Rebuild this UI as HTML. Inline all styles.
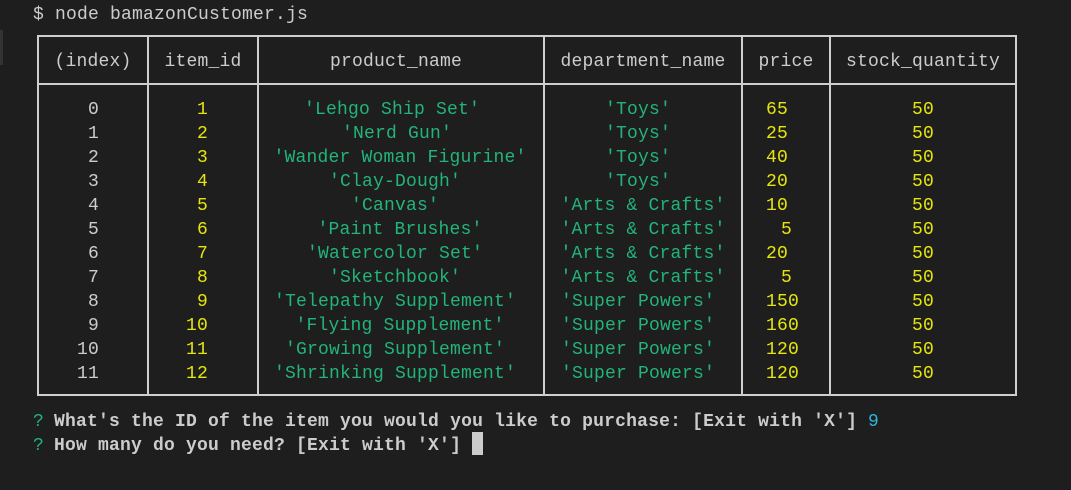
<!DOCTYPE html>
<html><head><meta charset="utf-8"><style>
html,body{margin:0;padding:0;background:#1e1e1e;}
svg{display:block}
text{font-family:"Liberation Mono",monospace;font-size:18px;letter-spacing:0.2px}
.w{fill:#cccccc}.y{fill:#e5e510}.g{fill:#22b47a}.b{fill:#29b8db}
</style></head><body>
<svg width="1071" height="490" xmlns="http://www.w3.org/2000/svg">
<rect width="1071" height="490" fill="#1e1e1e"/>
<rect x="0" y="30" width="3" height="35" fill="#333"/>
<text x="33" y="19" class="w">$ node bamazonCustomer.js</text>
<g stroke="#cfcfcf" stroke-width="2" fill="none">
<rect x="38" y="36" width="978" height="359"/>
<line x1="38" y1="84" x2="1016" y2="84"/>
<line x1="148" y1="36" x2="148" y2="395"/>
<line x1="258" y1="36" x2="258" y2="395"/>
<line x1="544" y1="36" x2="544" y2="395"/>
<line x1="742" y1="36" x2="742" y2="395"/>
<line x1="830" y1="36" x2="830" y2="395"/>
</g>
<g class="w" text-anchor="middle">
<text x="93" y="66">(index)</text>
<text x="203" y="66">item_id</text>
<text x="396" y="66">product_name</text>
<text x="643" y="66">department_name</text>
<text x="786" y="66">price</text>
<text x="923" y="66">stock_quantity</text>
</g>
<g class="w">
<text x="88" y="114">0</text><text x="88" y="138">1</text><text x="88" y="162">2</text><text x="88" y="186">3</text>
<text x="88" y="210">4</text><text x="88" y="234">5</text><text x="88" y="258">6</text><text x="88" y="282">7</text>
<text x="88" y="306">8</text><text x="88" y="330">9</text><text x="77" y="354">10</text><text x="77" y="378">11</text>
</g>
<g class="y">
<text x="197" y="114">1</text><text x="197" y="138">2</text><text x="197" y="162">3</text><text x="197" y="186">4</text>
<text x="197" y="210">5</text><text x="197" y="234">6</text><text x="197" y="258">7</text><text x="197" y="282">8</text>
<text x="197" y="306">9</text><text x="186" y="330">10</text><text x="186" y="354">11</text><text x="186" y="378">12</text>
<text x="766" y="114">65</text><text x="766" y="138">25</text><text x="766" y="162">40</text><text x="766" y="186">20</text>
<text x="766" y="210">10</text><text x="781" y="234">5</text><text x="766" y="258">20</text><text x="781" y="282">5</text>
<text x="766" y="306">150</text><text x="766" y="330">160</text><text x="766" y="354">120</text><text x="766" y="378">120</text>
<text x="912" y="114">50</text><text x="912" y="138">50</text><text x="912" y="162">50</text><text x="912" y="186">50</text>
<text x="912" y="210">50</text><text x="912" y="234">50</text><text x="912" y="258">50</text><text x="912" y="282">50</text>
<text x="912" y="306">50</text><text x="912" y="330">50</text><text x="912" y="354">50</text><text x="912" y="378">50</text>
</g>
<g class="g" text-anchor="middle">
<text x="392" y="114">'Lehgo Ship Set'</text>
<text x="397" y="138">'Nerd Gun'</text>
<text x="400" y="162">'Wander Woman Figurine'</text>
<text x="395" y="186">'Clay-Dough'</text>
<text x="395" y="210">'Canvas'</text>
<text x="400" y="234">'Paint Brushes'</text>
<text x="395" y="258">'Watercolor Set'</text>
<text x="395" y="282">'Sketchbook'</text>
<text x="395" y="306">'Telepathy Supplement'</text>
<text x="400" y="330">'Flying Supplement'</text>
<text x="395" y="354">'Growing Supplement'</text>
<text x="395" y="378">'Shrinking Supplement'</text>
<text x="638" y="114">'Toys'</text><text x="638" y="138">'Toys'</text><text x="638" y="162">'Toys'</text><text x="638" y="186">'Toys'</text>
<text x="643" y="210">'Arts &amp; Crafts'</text><text x="643" y="234">'Arts &amp; Crafts'</text><text x="643" y="258">'Arts &amp; Crafts'</text><text x="643" y="282">'Arts &amp; Crafts'</text>
<text x="638" y="306">'Super Powers'</text><text x="638" y="330">'Super Powers'</text><text x="638" y="354">'Super Powers'</text><text x="638" y="378">'Super Powers'</text>
</g>
<text x="33" y="426" class="g">?</text>
<text x="54" y="426" class="w" font-weight="bold">What's the ID of the item you would you like to purchase: [Exit with 'X']</text>
<text x="868" y="426" class="b">9</text>
<text x="33" y="450" class="g">?</text>
<text x="54" y="450" class="w" font-weight="bold">How many do you need? [Exit with 'X']</text>
<rect x="472" y="432" width="11" height="23" fill="#cccccc"/>
</svg>
</body></html>
